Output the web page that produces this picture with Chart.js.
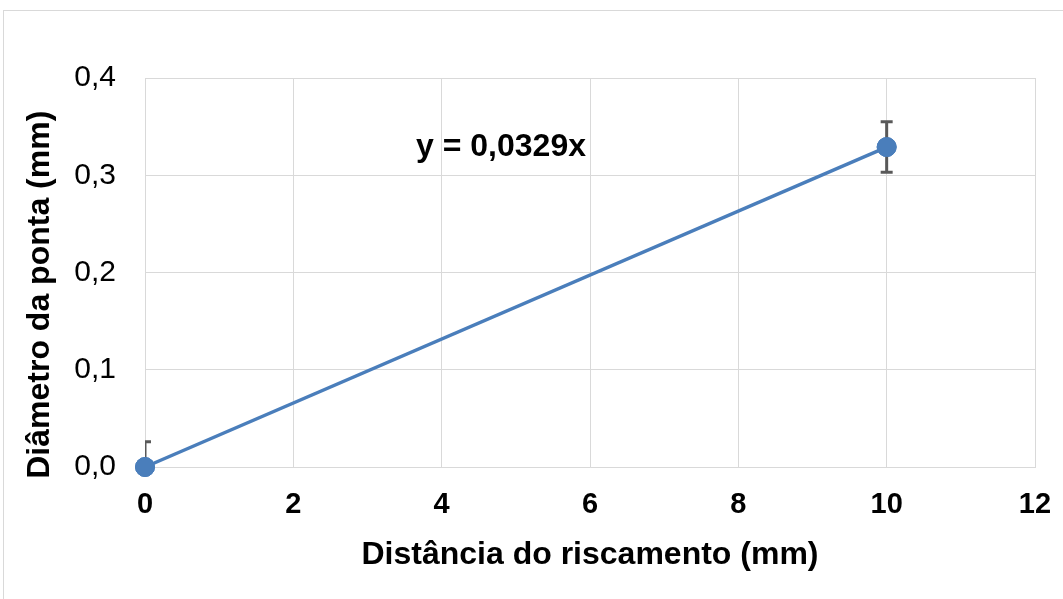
<!DOCTYPE html>
<html lang="pt">
<head>
<meta charset="utf-8">
<title>Diâmetro da ponta</title>
<script src="https://cdn.jsdelivr.net/npm/chart.js@4"></script>
<style>
    html, body { margin: 0; padding: 0; background: #fff; overflow: hidden; }
    #frame { position: absolute; left: 3px; top: 10px; width: 1100px; height: 700px; border: 1px solid #d9d9d9; }
    #chart { position: absolute; left: 0; top: 0; }
</style>
</head>
<body>
<div id="frame"></div>
<canvas id="chart" width="1063" height="599"></canvas>
<script>
// Dados do gráfico
const distancias = [0, 10];          // mm
const diametros = [0, 0.329];        // mm
const erros = [0.026, 0.026];        // barra de erro (+/-)
const inclinacao = 0.0329;           // linha de tendência y = a*x
const textoEquacao = 'y = 0,0329x';

const azul = '#4a7ebb';
const cinzaGrade = '#d9d9d9';
const fonte = 'Liberation Sans, Arial, sans-serif';

// barras de erro desenhadas a partir das escalas
const errorBars = {
    id: 'errorBars',
    afterDatasetsDraw(chart) {
        const { ctx, chartArea, scales: { x, y } } = chart;
        ctx.save();
        ctx.beginPath();
        ctx.rect(chartArea.left, chartArea.top, chartArea.right - chartArea.left, chartArea.bottom - chartArea.top);
        ctx.clip();
        ctx.strokeStyle = '#595959';
        ctx.lineWidth = 3;
        distancias.forEach((d, i) => {
            const px = x.getPixelForValue(d);
            const yTop = y.getPixelForValue(diametros[i] + erros[i]);
            const yBot = y.getPixelForValue(diametros[i] - erros[i]);
            ctx.beginPath();
            ctx.moveTo(px, yTop); ctx.lineTo(px, yBot);
            ctx.moveTo(px - 6, yTop); ctx.lineTo(px + 6, yTop);
            ctx.moveTo(px - 6, yBot); ctx.lineTo(px + 6, yBot);
            ctx.stroke();
        });
        ctx.restore();
        // redesenha os pontos por cima das barras
        const meta = chart.getDatasetMeta(1);
        meta.data.forEach(p => p.draw(ctx));
    }
};

// rótulo da equação da linha de tendência
const equacao = {
    id: 'equacao',
    afterDraw(chart) {
        const { ctx, scales: { x, y } } = chart;
        ctx.save();
        ctx.font = 'bold 32px ' + fonte;
        ctx.fillStyle = '#000';
        ctx.textAlign = 'center';
        ctx.textBaseline = 'middle';
        ctx.fillText(textoEquacao, x.getPixelForValue(4.8), y.getPixelForValue(0.329));
        ctx.restore();
    }
};

new Chart(document.getElementById('chart'), {
    type: 'scatter',
    data: {
        datasets: [
            {
                label: 'Tendência',
                data: distancias.map(d => ({ x: d, y: inclinacao * d })),
                showLine: true,
                borderColor: azul,
                borderWidth: 3.5,
                pointRadius: 0,
                clip: false
            },
            {
                label: 'Diâmetro',
                data: distancias.map((d, i) => ({ x: d, y: diametros[i] })),
                backgroundColor: azul,
                borderColor: azul,
                pointRadius: 9.5,
                borderWidth: 1,
                clip: false
            }
        ]
    },
    options: {
        responsive: false,
        animation: false,
        layout: { padding: { top: 78, right: 28, left: 0, bottom: 0 } },
        plugins: { legend: { display: false }, tooltip: { enabled: false } },
        scales: {
            x: {
                type: 'linear',
                min: 0, max: 12,
                afterFit: s => { s.height = 132; s.paddingLeft = 0; s.paddingRight = 0; },
                grid: { color: cinzaGrade, drawTicks: false },
                border: { color: cinzaGrade },
                ticks: {
                    stepSize: 2, padding: 21, color: '#000',
                    font: { family: fonte, size: 29, weight: 'bold' }
                },
                title: {
                    display: true, text: 'Distância do riscamento (mm)', color: '#000',
                    font: { family: fonte, size: 32, weight: 'bold' },
                    padding: { top: 0, bottom: 25 }
                }
            },
            y: {
                min: 0, max: 0.4,
                afterFit: s => { s.width = 145; },
                grid: { color: cinzaGrade, drawTicks: false },
                border: { color: cinzaGrade },
                ticks: {
                    stepSize: 0.1, padding: 29, color: '#000',
                    font: { family: fonte, size: 30 },
                    callback: v => v.toFixed(1).replace('.', ',')
                },
                title: {
                    display: true, text: 'Diâmetro da ponta (mm)     ', color: '#000',
                    font: { family: fonte, size: 32, weight: 'bold' },
                    padding: { top: 21, bottom: 0 }
                }
            }
        }
    },
    plugins: [errorBars, equacao]
});
</script>
</body>
</html>
